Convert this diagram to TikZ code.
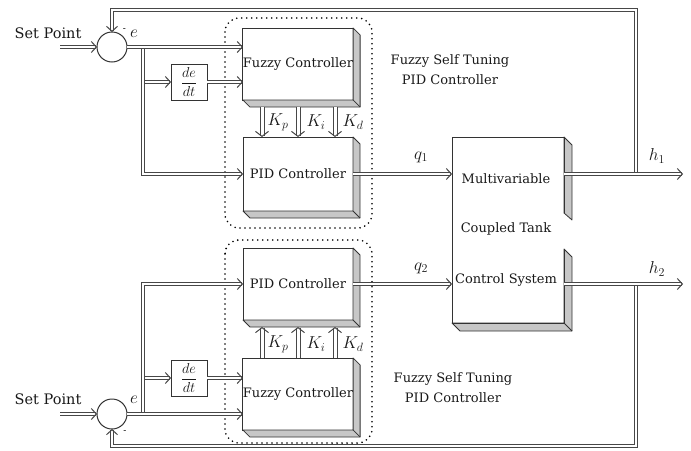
\documentclass[tikz,border=0pt]{standalone}
\usepackage{fontspec}
\setmainfont{DejaVu Serif}
\usetikzlibrary{arrows.meta,calc}
\newcommand\boxshade[2]{%
  \filldraw[shd] (#1.north east) -- ($(#1.north east)+(#2,#2)$) -- ($(#1.south east)+(#2,#2)$) -- ($(#1.south west)+(#2,#2)$) -- (#1.south west) -- (#1.south east) -- cycle;
  \draw[shd] (#1.south east) -- ($(#1.south east)+(#2,#2)$);}
\begin{document}
\begin{tikzpicture}[x=1pt,y=-1pt,
  dbl/.style={draw=black!72, line width=1pt, double=white, double distance=2pt},
  dbla/.style={dbl, -{Straight Barb[length=5pt,width=11pt]}},
  karr/.style={draw=black!72, line width=1pt, double=white, double distance=3pt, -{Straight Barb[length=5pt,width=13pt]}},
  blk/.style={draw=black!80, line width=1pt, fill=white, inner sep=0pt, outer sep=0pt, font=\fontsize{13}{15}\selectfont, text=black!90},
  shd/.style={draw=black!80, line width=0.8pt, fill=black!22, line join=round},
  sumc/.style={circle, draw=black!80, line width=1pt, fill=white, minimum size=30pt, inner sep=0pt, outer sep=0pt},
  lbl/.style={inner sep=0pt, font=\fontsize{13}{15}\selectfont, text=black!90},
  spl/.style={inner sep=0pt, font=\fontsize{14.5}{16}\selectfont, text=black!90},
  mth/.style={inner sep=0pt, font=\fontsize{17}{19}\selectfont, text=black!90},
  grp/.style={draw=black, line width=1.8pt, dash pattern=on 0pt off 5pt, line cap=round, rounded corners=14pt},
  ttl/.style={inner sep=0pt, align=center, font=\fontsize{13}{20}\selectfont, text=black!90}]
\useasboundingbox (0,0) rectangle (691,450);

% dotted groups
\draw[grp] (225,18) rectangle (372,228);
\draw[grp] (225,240) rectangle (372,443);
\node[ttl] (t1) at (450,70) {Fuzzy Self Tuning\\PID Controller};
\node[ttl] (t2) at (453,388) {Fuzzy Self Tuning\\PID Controller};

% summing junctions
\node[sumc] (c1) at (112,47) {};
\node[sumc] (c2) at (112,414) {};
\node[spl] (sp1) at (48,33) {Set Point};
\node[spl] (sp2) at (48,399) {Set Point};
\coordinate (in1) at (60,47);
\coordinate (in2) at (60,414);
\node[inner sep=0pt, font=\fontsize{9}{9}\selectfont] (m1) at (124.5,30) {-};
\node[mth] (e1) at (134,34) {$e$};
\node[mth] (e2) at (134,400) {$e$};
\node[inner sep=0pt, font=\fontsize{9}{9}\selectfont] (m2) at (125,432) {-};

% derivative boxes
\node[blk, minimum width=36pt, minimum height=36pt, font=\fontsize{15}{17}\selectfont] (dd1) at (189,82) {$\displaystyle\frac{de}{dt}$};
\node[blk, minimum width=36pt, minimum height=36pt, font=\fontsize{15}{17}\selectfont] (dd2) at (189,378) {$\displaystyle\frac{de}{dt}$};

% controller boxes
\node[blk, minimum width=110pt, minimum height=72pt] (fz1) at (298,64) {Fuzzy Controller};
\boxshade{fz1}{7}
\node[blk, minimum width=110pt, minimum height=74pt] (pid1) at (298,174) {PID Controller};
\boxshade{pid1}{7}
\node[blk, minimum width=110pt, minimum height=72pt] (pid2) at (298,284) {PID Controller};
\boxshade{pid2}{7}
\node[blk, minimum width=110pt, minimum height=72pt] (fz2) at (298,394) {Fuzzy Controller};
\boxshade{fz2}{7}

% plant
\node[blk, draw=none, minimum width=112pt, minimum height=186pt] (mv) at (508,230) {};
\filldraw[shd] (mv.north east) -- ($(mv.north east)+(8,8)$) -- ($(mv.north east)+(8,83)$) -- ($(mv.north east)+(0,76)$) -- cycle;
\filldraw[shd] ($(mv.south east)+(0,-74)$) -- ($(mv.south east)+(8,-66)$) -- ($(mv.south east)+(8,8)$) -- ($(mv.south west)+(8,8)$) -- (mv.south west) -- (mv.south east) -- cycle;
\draw[shd] (mv.south east) -- ($(mv.south east)+(8,8)$);
\draw[draw=black!80, line width=1pt] ($(mv.north east)+(0,76)$) -- (mv.north east) -- (mv.north west) -- (mv.south west) -- (mv.south east) -- ($(mv.south east)+(0,-74)$);
\node[lbl] (mvt1) at (506,179) {Multivariable};
\node[lbl] (mvt2) at (506,229) {Coupled Tank};
\node[lbl] (mvt3) at (506,280) {Control System};

% gain arrows
\draw[karr] ([xshift=-36pt]fz1.south) ++(0,7) -- ([xshift=-36pt]pid1.north);
\draw[karr] (fz1.south) ++(0,7) -- (pid1.north);
\draw[karr] ([xshift=37pt]fz1.south) ++(0,7) -- ([xshift=37pt]pid1.north);
\draw[karr] ([xshift=-36pt]fz2.north) -- ([xshift=-36pt,yshift=-7pt]pid2.south);
\draw[karr] (fz2.north) -- ([yshift=-7pt]pid2.south);
\draw[karr] ([xshift=37pt]fz2.north) -- ([xshift=37pt,yshift=-7pt]pid2.south);
\node[mth] (kp1) at (278,122) {$K_p$};
\node[mth] (ki1) at (316,122) {$K_i$};
\node[mth] (kd1) at (353,122) {$K_d$};
\node[mth] (kp2) at (278,344) {$K_p$};
\node[mth] (ki2) at (316,344) {$K_i$};
\node[mth] (kd2) at (353,344) {$K_d$};

% feedback
\coordinate (h1j) at (636,174);
\coordinate (h2j) at (636,284);
\coordinate (fbT) at (636,10);
\coordinate (fbB) at (636,446);
\coordinate (h1e) at (683,174);
\coordinate (h2e) at (683,284);
\draw[dbla] (h1j) -- (fbT) -| (c1.north);
\draw[dbla] (h2j) -- (fbB) -| (c2.south);

% inputs
\draw[dbla] (in1) -- (c1.west);
\draw[dbla] (in2) -- (c2.west);

% signal paths
\coordinate (b1) at (143,47);
\coordinate (b2) at (143,414);
\draw[dbla] (dd1.west -| b1) -- (dd1.west);
\draw[dbla] (b1) |- (pid1.west);
\draw[dbla] (c1.east) -- (c1.east -| fz1.west);
\draw[dbla] (dd1.east) -- (dd1.east -| fz1.west);
\draw[dbla] (dd2.west -| b2) -- (dd2.west);
\draw[dbla] (b2) |- (pid2.west);
\draw[dbla] (c2.east) -- (c2.east -| fz2.west);
\draw[dbla] (dd2.east) -- (dd2.east -| fz2.west);

% to plant and outputs
\draw[dbla] (pid1.east) -- (pid1.east -| mv.west);
\draw[dbla] (pid2.east) -- (pid2.east -| mv.west);
\draw[dbla] (pid1.east -| mv.east) -- (h1e);
\draw[dbla] (pid2.east -| mv.east) -- (h2e);
\node[mth] (q1) at (421,157) {$q_1$};
\node[mth] (q2) at (421,268) {$q_2$};
\node[mth] (h1) at (657,156) {$h_1$};
\node[mth] (h2) at (657,269) {$h_2$};
\end{tikzpicture}
\end{document}
